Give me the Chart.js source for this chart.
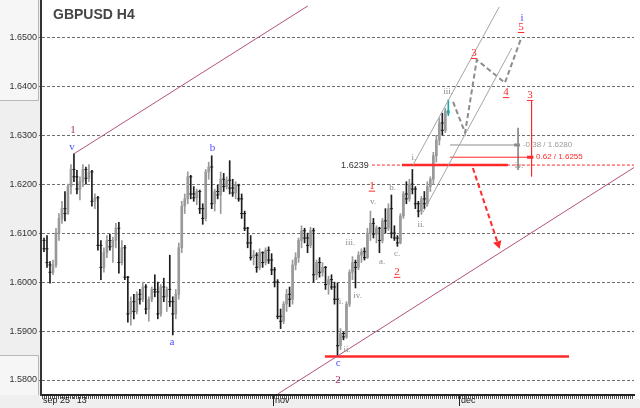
<!DOCTYPE html>
<html>
<head>
<meta charset="utf-8">
<script src="https://cdn.jsdelivr.net/npm/chart.js@4.4.1/dist/chart.umd.min.js"></script>
<style>
html,body{margin:0;padding:0;background:#fff;overflow:hidden}
#wrap{position:relative;width:640px;height:408px}
</style>
</head>
<body>
<div id="wrap"><canvas id="c" width="640" height="408"></canvas></div>
<script>
// ---- OHLC values (GBPUSD H4), one entry per bar ----
const opens = [
1.6085,1.6068,1.6035,1.6020,1.6035,1.6100,1.6130,1.6150,1.6140,1.6195,
1.6230,1.6215,1.6190,1.6205,1.6230,1.6212,1.6225,1.6165,1.6172,1.6075,
1.6030,1.6060,1.6085,1.6072,1.6085,1.6110,1.6040,1.6070,1.6010,1.5935,
1.5960,1.5940,1.5975,1.5965,1.5990,1.5945,1.5965,1.5985,1.5980,1.5935,
1.5990,1.5970,1.5985,1.5960,1.5935,1.5975,1.6070,1.6155,1.6170,1.6215,
1.6180,1.6172,1.6185,1.6150,1.6130,1.6225,1.6235,1.6160,1.6185,1.6178,
1.6210,1.6195,1.6208,1.6192,1.6182,1.6198,1.6170,1.6140,1.6110,1.6080,
1.6050,1.6055,1.6030,1.6060,1.6040,1.6065,1.6045,1.6025,1.6000,1.5930,
1.5920,1.5955,1.5975,1.5965,1.6035,1.6050,1.6085,1.6105,1.6090,1.6075,
1.6105,1.6015,1.6040,1.6020,1.6030,1.5995,1.6005,1.5990,1.5965,1.5870,
1.5895,1.5888,1.5955,1.6020,1.6040,1.6030,1.6055,1.6062,1.6050,1.6100,
1.6120,1.6098,1.6110,1.6085,1.6125,1.6110,1.6150,1.6100,1.6090,1.6080,
1.6135,1.6180,1.6170,1.6200,1.6190,1.6160,1.6145,1.6170,1.6160,1.6195,
1.6210,1.6258,1.6290,1.6325,1.6310,1.6350];
const highs = [
1.6090,1.6095,1.6042,1.6045,1.6110,1.6140,1.6165,1.6185,1.6200,1.6240,
1.6262,1.6228,1.6215,1.6240,1.6235,1.6240,1.6228,1.6180,1.6175,1.6085,
1.6070,1.6095,1.6098,1.6092,1.6120,1.6122,1.6085,1.6075,1.6012,1.5970,
1.5975,1.5980,1.5985,1.6000,1.5995,1.5970,1.5990,1.6015,1.6000,1.5995,
1.6008,1.5990,1.6055,1.5970,1.5985,1.6080,1.6165,1.6180,1.6225,1.6218,
1.6195,1.6190,1.6188,1.6160,1.6230,1.6245,1.6258,1.6190,1.6198,1.6225,
1.6222,1.6215,1.6248,1.6210,1.6205,1.6200,1.6180,1.6145,1.6112,1.6095,
1.6065,1.6060,1.6068,1.6062,1.6070,1.6072,1.6058,1.6030,1.6005,1.5945,
1.5960,1.5985,1.5990,1.6045,1.6060,1.6090,1.6115,1.6110,1.6100,1.6112,
1.6110,1.6045,1.6050,1.6040,1.6032,1.6012,1.6015,1.6000,1.5998,1.5905,
1.5898,1.5960,1.6025,1.6052,1.6045,1.6062,1.6068,1.6070,1.6110,1.6145,
1.6130,1.6115,1.6112,1.6130,1.6150,1.6160,1.6178,1.6115,1.6095,1.6140,
1.6185,1.6205,1.6210,1.6230,1.6195,1.6165,1.6175,1.6185,1.6205,1.6215,
1.6265,1.6300,1.6335,1.6345,1.6355,1.6372];
const lows = [
1.6062,1.6030,1.5998,1.6015,1.6030,1.6085,1.6120,1.6125,1.6138,1.6180,
1.6205,1.6180,1.6168,1.6195,1.6200,1.6205,1.6155,1.6150,1.6065,1.6005,
1.6020,1.6050,1.6065,1.6040,1.6070,1.6018,1.6035,1.6005,1.5918,1.5912,
1.5925,1.5935,1.5955,1.5960,1.5935,1.5920,1.5960,1.5970,1.5925,1.5930,
1.5960,1.5940,1.5950,1.5892,1.5925,1.5965,1.6060,1.6140,1.6160,1.6170,
1.6165,1.6158,1.6140,1.6118,1.6125,1.6210,1.6150,1.6145,1.6170,1.6140,
1.6185,1.6190,1.6180,1.6175,1.6170,1.6165,1.6130,1.6105,1.6070,1.6045,
1.6035,1.6020,1.6025,1.6030,1.6035,1.6038,1.6015,1.5990,1.5925,1.5905,
1.5915,1.5940,1.5950,1.5955,1.6025,1.6040,1.6070,1.6080,1.6060,1.6070,
1.6000,1.6005,1.6010,1.6012,1.5985,1.5975,1.5985,1.5955,1.5848,1.5862,
1.5882,1.5885,1.5950,1.6005,1.5988,1.6025,1.6040,1.6045,1.6048,1.6085,
1.6090,1.6080,1.6060,1.6080,1.6100,1.6105,1.6090,1.6085,1.6073,1.6078,
1.6130,1.6160,1.6165,1.6180,1.6150,1.6133,1.6138,1.6150,1.6155,1.6185,
1.6200,1.6245,1.6280,1.6300,1.6305,1.6340];
const closes = [
1.6068,1.6040,1.6020,1.6035,1.6100,1.6130,1.6150,1.6140,1.6195,1.6230,
1.6215,1.6190,1.6205,1.6230,1.6212,1.6225,1.6165,1.6172,1.6075,1.6030,
1.6060,1.6085,1.6072,1.6085,1.6110,1.6040,1.6070,1.6010,1.5935,1.5960,
1.5940,1.5975,1.5965,1.5990,1.5945,1.5965,1.5985,1.5980,1.5935,1.5990,
1.5970,1.5985,1.5960,1.5935,1.5975,1.6070,1.6155,1.6170,1.6215,1.6180,
1.6172,1.6185,1.6150,1.6130,1.6225,1.6235,1.6160,1.6185,1.6178,1.6210,
1.6195,1.6208,1.6192,1.6182,1.6198,1.6170,1.6140,1.6110,1.6080,1.6050,
1.6055,1.6030,1.6060,1.6040,1.6065,1.6045,1.6025,1.6000,1.5930,1.5920,
1.5955,1.5975,1.5965,1.6035,1.6050,1.6085,1.6105,1.6090,1.6075,1.6105,
1.6015,1.6040,1.6020,1.6030,1.5995,1.6005,1.5990,1.5965,1.5870,1.5895,
1.5888,1.5955,1.6020,1.6040,1.6030,1.6055,1.6062,1.6050,1.6100,1.6120,
1.6098,1.6110,1.6085,1.6125,1.6110,1.6150,1.6100,1.6090,1.6080,1.6135,
1.6180,1.6170,1.6200,1.6190,1.6160,1.6145,1.6170,1.6160,1.6195,1.6210,
1.6258,1.6290,1.6325,1.6310,1.6350,1.6345];

// ---- axis ticks ----
const yTickValues = [1.58,1.59,1.60,1.61,1.62,1.63,1.64,1.65];
const xTickPos    = [0, 77.5, 139.6];
const xTickLabels = ["sep 25 ' 13", "nov", "dec"];

// ---- drawn studies (bar index, price) ----
const upperChannel = [{x:11,y:1.6262},{x:89.1,y:1.6564}];
const lowerChannel = [{x:79.2,y:1.5772},{x:198,y:1.6234}];
const trendA       = [{x:124.2,y:1.6239},{x:153.0,y:1.6562}];
const trendB       = [{x:127.5,y:1.6142},{x:157.2,y:1.6478}];
const projection   = [{x:137.6,y:1.6368},{x:141.6,y:1.6305},{x:145.5,y:1.6454},{x:154.9,y:1.6407},{x:160.5,y:1.6501}];
const dropArrow    = [{x:144.2,y:1.6233},{x:152.6,y:1.6078}];
const supportLow   = [{x:94.8,y:1.5848},{x:176.3,y:1.5848}];
const breakLevel   = [{x:120.5,y:1.6239},{x:155.9,y:1.6239}];
const breakDashed  = [{x:110.5,y:1.6239},{x:198,y:1.6239}];
const fib38        = [{x:136.6,y:1.6280},{x:159.3,y:1.6280}];
const fib38Mark    = [{x:158.0,y:1.6280},{x:159.9,y:1.6280}];
const fib62        = [{x:136.6,y:1.6255},{x:163.5,y:1.6255}];
const fib62Mark    = [{x:162.3,y:1.6255},{x:164.4,y:1.6255}];
const ivRange      = [{x:159.3,y:1.6315},{x:159.3,y:1.6229}];
const w3Range      = [{x:163.8,y:1.6369},{x:163.8,y:1.6216}];

// ---- wave labels ----
const waveText   = ['1','v','b','a','c','2','i.','ii.','iii.','iv.','v.','a.','b.','c.','1','2','i.','ii.','iii.','iv.','3','4','5','i','3'];
const waveIdx    = [10.7,10.35,57.3,43.7,99.2,99.2,100.2,102.2,103.3,105.7,110.9,113.9,117.4,118.9,110.5,118.9,124.5,126.9,135.9,159.6,144.6,155.3,160.3,160.6,163.3];
const wavePrice  = [1.6311,1.6276,1.6274,1.5878,1.5835,1.5799,1.5960,1.5862,1.6080,1.5972,1.6164,1.6041,1.6192,1.6058,1.6197,1.6021,1.6254,1.6117,1.6388,1.6237,1.6468,1.6388,1.6521,1.6539,1.6382];
const waveDegree = ['primary','minor','minor','minor','minor','primary','sub','sub','sub','sub','sub','sub','sub','sub','inter','inter','sub','sub','sub','sub','inter','inter','inter','minor','inter'];

const tagText  = ['1.6239','-0.38 / 1.6280','0.62 / 1.6255'];
const tagIdx   = [109.4,160.9,165.3];
const tagPrice = [1.6239,1.6280,1.6255];

// ---- styles ----
const UP = '#9a9a9a', DN = '#1c1c1c', LAST = '#1fa6a6';
const RED = '#ff2a2a', PURPLE = '#b3517f', GREY = '#8c8c8c';
const STYLE = {
  primary:{color:'#b0306a', font:'11px "Liberation Serif", serif', u:false},
  minor:  {color:'#4f4fff', font:'11px "Liberation Serif", serif', u:false},
  sub:    {color:'#8a8a8a', font:'9px "Liberation Serif", serif',  u:false},
  inter:  {color:RED,       font:'11px "Liberation Serif", serif', u:true}
};
const TAGSTYLE = [
  {color:'#333333', font:'9px "Liberation Sans", Arial, sans-serif', align:'right'},
  {color:'#9a9a9a', font:'8px "Liberation Sans", Arial, sans-serif', align:'left'},
  {color:RED,       font:'8px "Liberation Sans", Arial, sans-serif', align:'left'}
];

const barIdx = opens.map((_, k) => k + 1);
const isLast = k => k === opens.length - 1;
const isUp = k => closes[k] >= opens[k];
function barColor(k){ if (isLast(k)) return LAST; return isUp(k) ? UP : DN; }
const wickData = barIdx.map((x, k) => ({x, y:[lows[k], highs[k]]}));
const bodyData = barIdx.map((x, k) => ({x, y:[Math.min(opens[k], closes[k]), Math.max(opens[k], closes[k])]}));
// open / close tick marks of the dark (falling) bars
const tickData = [];
barIdx.forEach((x, k) => { if (!isUp(k) && !isLast(k)) { tickData.push({x, y:opens[k]}); tickData.push({x, y:closes[k]}); } });

function line(data, color, width, dash, extra){
  return Object.assign({type:'line', data, borderColor:color, borderWidth:width, borderDash:dash||[],
    pointRadius:0, fill:false, tension:0, order:1}, extra||{});
}

const deco = {
  id:'deco',
  beforeDraw(chart){
    const {ctx, width, height, chartArea:a} = chart;
    ctx.save();
    ctx.fillStyle = '#ffffff'; ctx.fillRect(0,0,width,height);
    ctx.fillStyle = '#efefef';
    ctx.fillRect(0,0,a.left-1,height);
    ctx.fillRect(0,a.bottom+4,width,height-a.bottom-4);
    ctx.fillStyle = '#f6f6f6';
    ctx.fillRect(0,0,38,100);
    ctx.fillRect(0,356,38,39);
    ctx.strokeStyle = '#b8b8b8'; ctx.lineWidth = 1;
    ctx.beginPath();
    ctx.moveTo(38.5,0); ctx.lineTo(38.5,100.5); ctx.lineTo(0,100.5);
    ctx.moveTo(0,355.5); ctx.lineTo(38.5,355.5); ctx.lineTo(38.5,395);
    ctx.stroke();
    ctx.fillStyle = '#555';
    for (let x = a.left + 1; x < a.right; x += 2) ctx.fillRect(x, a.bottom + 1, 1, 3);
    ctx.restore();
  },
  afterDatasetsDraw(chart){
    const {ctx, scales:{x:xs, y:ys}} = chart;
    ctx.save();
    waveText.forEach((t,k)=>{
      const s = STYLE[waveDegree[k]];
      const px = xs.getPixelForValue(waveIdx[k]), py = ys.getPixelForValue(wavePrice[k]);
      ctx.font = s.font; ctx.fillStyle = s.color; ctx.textAlign='center'; ctx.textBaseline='middle';
      ctx.fillText(t, px, py);
      if (s.u){ const w = ctx.measureText(t).width; ctx.fillRect(px-w/2-0.5, py+5, w+1, 1); }
    });
    tagText.forEach((t,k)=>{
      const s = TAGSTYLE[k];
      ctx.font = s.font; ctx.fillStyle = s.color; ctx.textAlign = s.align; ctx.textBaseline='middle';
      ctx.fillText(t, xs.getPixelForValue(tagIdx[k]), ys.getPixelForValue(tagPrice[k]));
    });
    ctx.restore();
  },
  afterDraw(chart){
    const {ctx} = chart;
    ctx.save();
    ctx.font = 'bold 14px "Liberation Sans", Arial, sans-serif';
    ctx.fillStyle = '#444'; ctx.textAlign='left'; ctx.textBaseline='middle';
    ctx.fillText('GBPUSD H4', 53, 15);
    ctx.restore();
  }
};

Chart.defaults.font.family = '"Liberation Sans", Arial, sans-serif';

new Chart(document.getElementById('c'), {
  type:'bar',
  data:{ datasets:[
    line(upperChannel, PURPLE, 1),
    line(lowerChannel, PURPLE, 1),
    line(trendA, '#a6a6a6', 1),
    line(trendB, '#a6a6a6', 1),
    line(projection, GREY, 2, [5,3]),
    line(dropArrow, RED, 2, [5,3], {pointRadius:[0,5], pointStyle:'triangle', pointRotation:162,
      pointBackgroundColor:RED, pointBorderColor:RED, pointBorderWidth:0}),
    line(supportLow, RED, 2.5),
    line(breakDashed, RED, 1, [3,2]),
    line(breakLevel, RED, 2.5),
    line(fib38, GREY, 1),
    line(fib38Mark, GREY, 3),
    line(fib62, RED, 1),
    line(fib62Mark, RED, 3),
    line(ivRange, GREY, 1),
    line(w3Range, RED, 1),
    {type:'line', data:tickData, showLine:false, pointStyle:'line', pointRadius:1.5, pointBorderWidth:1,
      pointBorderColor:DN, borderColor:DN, order:4},
    {type:'bar', data:wickData, backgroundColor:c=>barColor(c.dataIndex), barThickness:1, grouped:false, order:5, borderWidth:0},
    {type:'bar', data:bodyData, backgroundColor:c=>isUp(c.dataIndex)||isLast(c.dataIndex)?barColor(c.dataIndex):'rgba(0,0,0,0)',
      barThickness:2, grouped:false, order:5, borderWidth:0, minBarLength:1}
  ]},
  options:{
    responsive:false, animation:false, devicePixelRatio:1, events:[],
    layout:{autoPadding:false, padding:{left:0, right:6, top:0, bottom:0}},
    plugins:{legend:{display:false}, title:{display:false}, tooltip:{enabled:false}},
    scales:{
      x:{
        type:'linear', min:0, max:198, offset:false,
        afterFit(s){ s.height = 13; s.paddingLeft = 0; s.paddingRight = 0; },
        afterBuildTicks(s){ s.ticks = xTickPos.map(v => ({value:v})); },
        grid:{display:true, drawOnChartArea:false, offset:false, tickLength:11, tickWidth:1,
          tickColor:c => c.index === 0 ? 'rgba(0,0,0,0)' : '#222'},
        border:{display:true, color:'#222', width:2},
        ticks:{autoSkip:false, maxRotation:0, minRotation:0, align:'start', labelOffset:2, padding:-11,
          color:'#222', font:{size:9}, callback:(v,i) => xTickLabels[i]}
      },
      y:{
        type:'linear', min:1.576939, max:1.657612, beginAtZero:false,
        afterFit(s){ s.width = 41; s.paddingTop = 0; s.paddingBottom = 0; },
        afterBuildTicks(s){ s.ticks = yTickValues.map(v => ({value:v})); },
        grid:{color:'#6e6e6e', lineWidth:1, tickLength:2, drawTicks:true},
        border:{display:true, color:'#333', width:2, dash:[3,2]},
        ticks:{padding:2, color:'#333', font:{size:9}, callback:v => Number(v).toFixed(4)}
      }
    }
  },
  plugins:[deco]
});
</script>
</body>
</html>
